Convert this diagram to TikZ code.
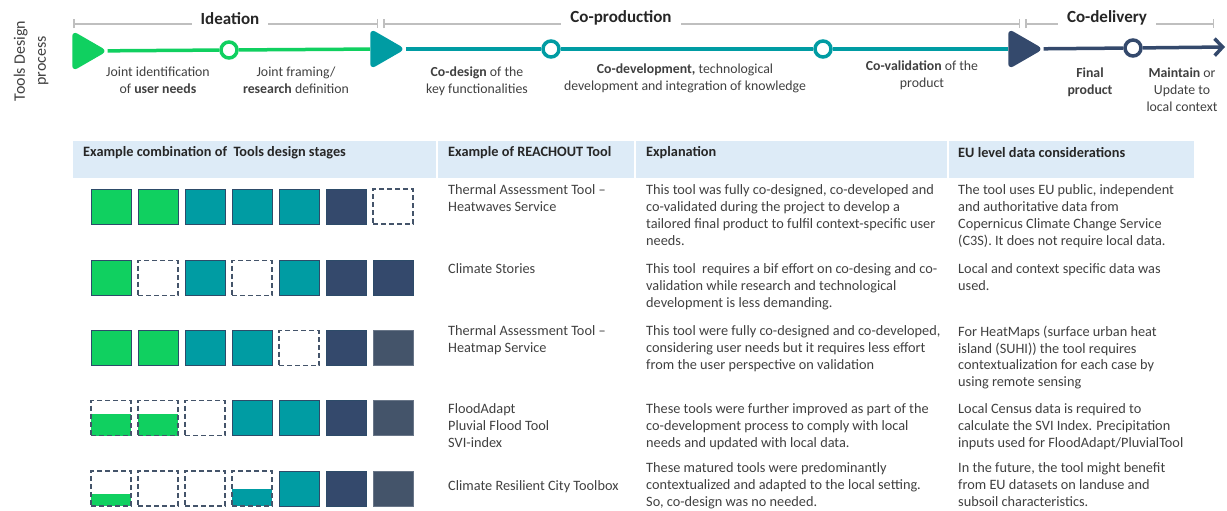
\documentclass[tikz,border=0pt]{standalone}
\usepackage{fontspec}
\setmainfont{Carlito}
\usetikzlibrary{arrows.meta,shapes.geometric}
\definecolor{gre}{RGB}{16,208,96}
\definecolor{tea}{RGB}{0,156,163}
\definecolor{nav}{RGB}{52,73,108}
\definecolor{sla}{RGB}{68,84,106}
\definecolor{edge}{RGB}{45,75,105}
\definecolor{head}{RGB}{221,235,247}
\definecolor{bar}{RGB}{191,191,191}
\definecolor{ink}{RGB}{64,64,64}
\definecolor{ink2}{RGB}{38,38,38}

\begin{document}
\begin{tikzpicture}[x=1pt,y=-1pt,node distance=47pt,
  tri/.style={regular polygon,regular polygon sides=3,shape border rotate=-90,minimum size=47pt,inner sep=0pt,rounded corners=6pt,fill=#1},
  dot/.style={circle,draw=#1,line width=3.5pt,fill=white,minimum size=16pt,inner sep=0pt},
  link/.style={draw=#1,line width=3.5pt},
  brace/.style={draw=bar,line width=1.5pt,{Bar[width=9pt]}-{Bar[width=9pt]}},
  phase/.style={fill=white,font=\fontsize{17}{20}\selectfont\bfseries,text=ink2,inner xsep=9pt,inner ysep=3pt},
  stage/.style={align=center,font=\fontsize{13.8}{17}\selectfont,text=ink,inner sep=0pt},
  hd/.style={anchor=west,font=\fontsize{14.3}{17}\selectfont\bfseries,text=ink2,inner sep=0pt},
  txt/.style={anchor=north west,align=left,font=\fontsize{14.3}{16.9}\selectfont,text=ink,inner sep=0pt},
  sq/.style={minimum width=40pt,minimum height=35pt,inner sep=0pt,draw=edge,line width=0.8pt},
  gsq/.style={sq,fill=gre},
  tsq/.style={sq,fill=tea},
  nsq/.style={sq,fill=nav},
  ssq/.style={sq,fill=sla,draw=sla!80},
  dsq/.style={sq,draw=sla,line width=1.3pt,dash pattern=on 5pt off 3pt,fill=white},
  part/.style 2 args={dsq,path picture={\fill[#1] (path picture bounding box.south west) rectangle ([yshift=#2]path picture bounding box.south east);}}]
\useasboundingbox (0,0) rectangle (1227,511);

\node[rotate=90,align=center,font=\fontsize{16}{21}\selectfont,text=ink] (side) at (31,61) {Tools Design\\process};

\coordinate (i0) at (73,24);
\coordinate (i1) at (378,24);
\coordinate (p0) at (383,24);
\coordinate (p1) at (1020,24);
\coordinate (v0) at (1025,24);
\coordinate (v1) at (1214,24);
\draw[brace] (i0) -- (i1);
\draw[brace] (p0) -- (p1);
\draw[brace] (v0) -- (v1);
\node[phase] (ideation) at (230,19) {Ideation};
\node[phase] (coprod) at (621,18) {Co-production};
\node[phase] (codeliv) at (1107,18) {Co-delivery};

\node[tri=gre] (t1) at (84,51) {};
\node[dot=gre] (d1) at (229,50) {};
\node[tri=tea] (t2) at (382,49) {};
\node[dot=tea] (d2) at (551,49) {};
\node[dot=tea] (d3) at (823,49) {};
\node[tri=nav] (t3) at (1020,49) {};
\node[dot=nav] (d4) at (1133,48) {};
\coordinate (tip) at (1225,47);
\draw[link=gre] (t1) -- (d1);
\draw[link=gre] (d1) -- (t2);
\draw[link=tea] (t2) -- (d2);
\draw[link=tea] (d2) -- (d3);
\draw[link=tea] (d3) -- (t3);
\draw[link=nav] (t3) -- (d4);
\draw[link=nav,-{Straight Barb[length=8pt,width=17pt]}] (d4) -- (tip);

\node[stage] (s1) at (158,80.5) {Joint identification\\of \textbf{user needs}};
\node[stage] (s2) at (296,80.5) {Joint framing/\\\textbf{research} definition};
\node[stage] (s3) at (477,81) {\textbf{Co-design} of the\\key functionalities};
\node[stage] (s4) at (685,78) {\textbf{Co-development,} technological\\development and integration of knowledge};
\node[stage] (s5) at (922,75) {\textbf{Co-validation} of the\\product};
\node[stage] (s6) at (1090,82) {\textbf{Final}\\\textbf{product}};
\node[stage] (s7) at (1182,90) {\textbf{Maintain} or\\Update to\\local context};

\fill[head] (73,141) rectangle (436,178);
\fill[head] (438,141) rectangle (634,178);
\fill[head] (636,141) rectangle (947,178);
\fill[head] (949,141) rectangle (1194,178);
\node[hd] (h1) at (83,153) {Example combination of\ \ Tools design stages};
\node[hd] (h2) at (448,153) {Example of REACHOUT Tool};
\node[hd] (h3) at (646,153) {Explanation};
\node[hd] (h4) at (958,153) {EU level data considerations};

\node[gsq] (a1) at (111,206.5) {};
\node[gsq] (a2) [right of=a1] {};
\node[tsq] (a3) [right of=a2] {};
\node[tsq] (a4) [right of=a3] {};
\node[tsq] (a5) [right of=a4] {};
\node[nsq] (a6) [right of=a5] {};
\node[dsq] (a7) [right of=a6] {};

\node[gsq] (b1) at (111,278) {};
\node[dsq] (b2) [right of=b1] {};
\node[tsq] (b3) [right of=b2] {};
\node[dsq] (b4) [right of=b3] {};
\node[tsq] (b5) [right of=b4] {};
\node[nsq] (b6) [right of=b5] {};
\node[nsq] (b7) [right of=b6] {};

\node[gsq] (c1) at (111,348) {};
\node[gsq] (c2) [right of=c1] {};
\node[tsq] (c3) [right of=c2] {};
\node[tsq] (c4) [right of=c3] {};
\node[dsq] (c5) [right of=c4] {};
\node[nsq] (c6) [right of=c5] {};
\node[ssq] (c7) [right of=c6] {};

\node[part={gre}{22pt}] (e1) at (111,418) {};
\node[part={gre}{22pt}] (e2) [right of=e1] {};
\node[dsq] (e3) [right of=e2] {};
\node[tsq] (e4) [right of=e3] {};
\node[tsq] (e5) [right of=e4] {};
\node[nsq] (e6) [right of=e5] {};
\node[ssq] (e7) [right of=e6] {};

\node[part={gre}{12pt}] (f1) at (111,488.5) {};
\node[dsq] (f2) [right of=f1] {};
\node[dsq] (f3) [right of=f2] {};
\node[part={tea}{17pt}] (f4) [right of=f3] {};
\node[tsq] (f5) [right of=f4] {};
\node[nsq] (f6) [right of=f5] {};
\node[ssq] (f7) [right of=f6] {};

\node[txt] (a8) at (448,184.5) {Thermal Assessment Tool --\\Heatwaves Service};
\node[txt] (a9) at (646,184.5) {This tool was fully co-designed, co-developed and\\co-validated during the project to develop a\\tailored final product to fulfil context-specific user\\needs.};
\node[txt] (a10) at (958,184.5) {The tool uses EU public, independent\\and authoritative data from\\Copernicus Climate Change Service\\(C3S). It does not require local data.};

\node[txt] (b8) at (448,263.5) {Climate Stories};
\node[txt] (b9) at (646,263.5) {This tool\ \ requires a bif effort on co-desing and co-\\validation while research and technological\\development is less demanding.};
\node[txt] (b10) at (958,263.5) {Local and context specific data was\\used.};

\node[txt] (c8) at (448,325.5) {Thermal Assessment Tool --\\Heatmap Service};
\node[txt] (c9) at (646,325.5) {This tool were fully co-designed and co-developed,\\considering user needs but it requires less effort\\from the user perspective on validation};
\node[txt] (c10) at (958,325.5) {For HeatMaps (surface urban heat\\island (SUHI)) the tool requires\\contextualization for each case by\\using remote sensing};

\node[txt] (e8) at (448,403.5) {FloodAdapt\\Pluvial Flood Tool\\SVI-index};
\node[txt] (e9) at (646,403.5) {These tools were further improved as part of the\\co-development process to comply with local\\needs and updated with local data.};
\node[txt] (e10) at (958,403.5) {Local Census data is required to\\calculate the SVI Index. Precipitation\\inputs used for FloodAdapt/PluvialTool};

\node[txt] (f8) at (448,480.5) {Climate Resilient City Toolbox};
\node[txt] (f9) at (646,462.5) {These matured tools were predominantly\\contextualized and adapted to the local setting.\\So, co-design was no needed.};
\node[txt] (f10) at (958,462.5) {In the future, the tool might benefit\\from EU datasets on landuse and\\subsoil characteristics.};
\end{tikzpicture}
\end{document}
